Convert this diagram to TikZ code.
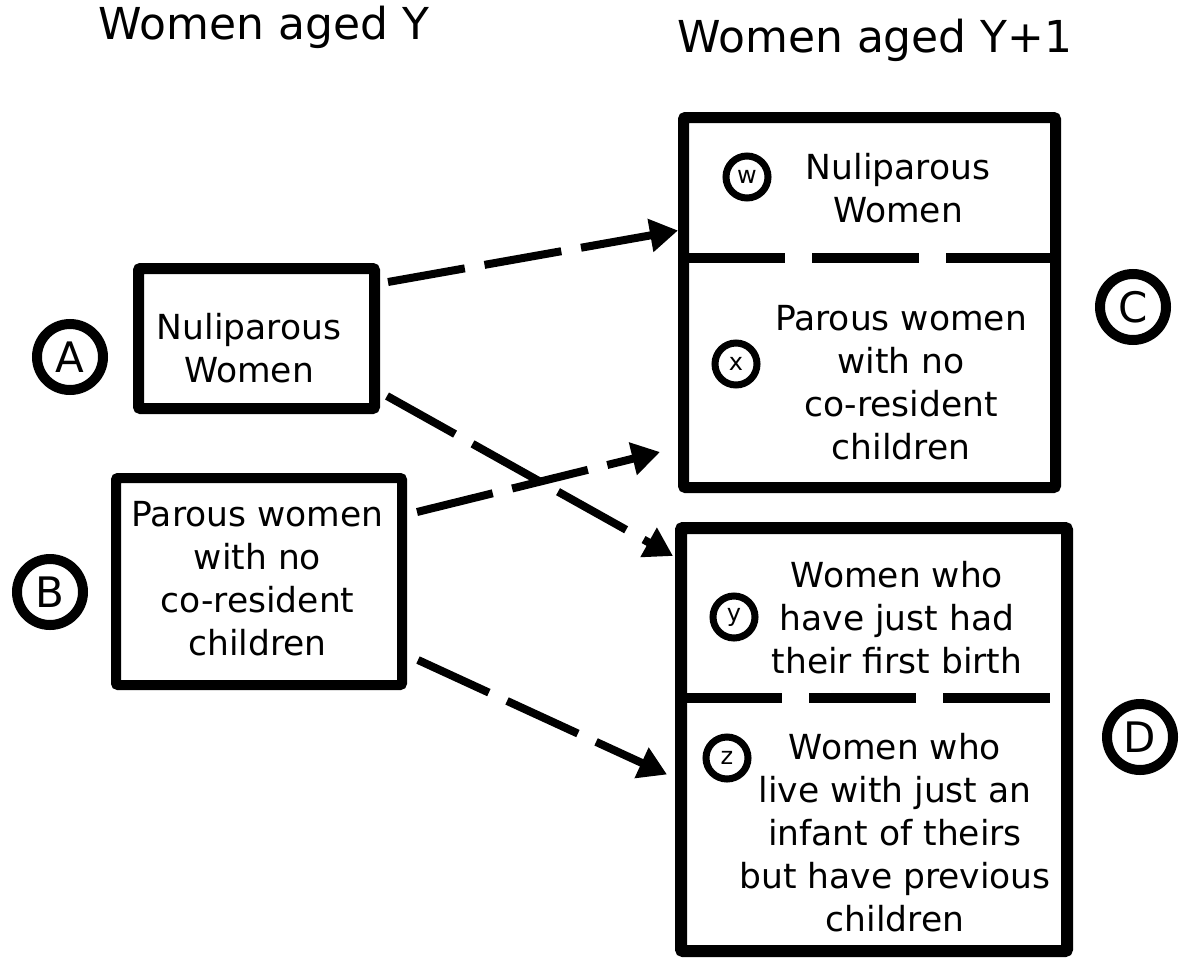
\documentclass[tikz,border=0pt]{standalone}
\usepackage{fontspec}
\setmainfont{DejaVu Sans}
\usepackage{tikz}
\usetikzlibrary{arrows.meta,positioning,calc}
\tikzset{box/.style={draw,line width=11pt,rounded corners=2pt,inner sep=0pt}}
\tikzset{txt/.style={align=center,font=\fontsize{34.5}{43}\selectfont}}
\tikzset{tag/.style={draw,circle,line width=10pt,minimum size=66pt,inner sep=0pt,font=\fontsize{42}{42}\selectfont}}
\tikzset{subtag/.style={draw,circle,line width=7pt,minimum size=42pt,inner sep=0pt,font=\fontsize{24}{24}\selectfont}}
\tikzset{flow/.style={line width=8pt,dash pattern=on 78pt off 20pt,-{Triangle[length=28pt,width=32pt]}}}
\tikzset{split/.style={line width=10pt}}

\begin{document}
\begin{tikzpicture}[x=1pt, y=-1pt]
        \useasboundingbox (0,0) rectangle (1185,961);
        % column titles
        \node[anchor=base,font=\fontsize{44}{44}\selectfont] (ageY) at (264,39) {Women aged Y};
        \node[anchor=base,font=\fontsize{44}{44}\selectfont] (ageY1) at (875,52) {Women aged Y+1};
        % boxes of year Y
        \node[box,minimum width=236pt,minimum height=140pt] (boxA) at (256.5,338.5) {};
        \node[box,line width=10pt,minimum width=286pt,minimum height=207pt] (boxB) at (259,581.5) {};
        \node[txt] (textA) at (249,348) {Nuliparous\\Women};
        \node[txt] (textB) at (257.5,579) {Parous women\\with no\\co-resident\\children};
        % boxes of year Y+1
        \node[box,minimum width=372pt,minimum height=370pt] (boxC) at (869.5,302.5) {};
        \node[box,line width=12pt,minimum width=386pt,minimum height=423pt] (boxD) at (874,739.5) {};
        \draw[split,dash pattern=on 107pt off 27pt] (boxC.west |- 0,258) -- (boxC.east |- 0,258);
        \draw[split,dash pattern=on 107pt off 27pt] (boxD.west |- 0,698) -- (boxD.east |- 0,698);
        \node[txt] (textW) at (898,188) {Nuliparous\\Women};
        \node[txt] (textX) at (901,383) {Parous women\\with no\\co-resident\\children};
        \node[txt] (textY) at (897,618) {Women who\\have just had\\their first birth};
        \node[txt] (textZ) at (895,833) {Women who\\live with just an\\infant of theirs\\but have previous\\children};
        % tags
        \node[tag] (tagA) at (70,357) {A};
        \node[tag] (tagB) at (50,592) {B};
        \node[tag] (tagC) at (1133,307) {C};
        \node[tag] (tagD) at (1140,737) {D};
        \node[subtag] (tagW) at (747,177) {w};
        \node[subtag] (tagX) at (736,364) {x};
        \node[subtag] (tagY) at (734,617) {y};
        \node[subtag] (tagZ) at (727,758) {z};
        % transitions
        \draw[flow] ([xshift=8pt,yshift=-19pt]boxA.north east) -- ([yshift=72pt]boxC.west);
        \draw[flow] ([xshift=7pt,yshift=18pt]boxA.south east) -- ([xshift=-2pt,yshift=-34pt]boxD.north west);
        \draw[flow] ([xshift=10pt,yshift=-39pt]boxB.north east) -- ([xshift=-18pt,yshift=41pt]boxC.south west);
        \draw[flow] ([xshift=11pt,yshift=30pt]boxB.south east) -- ([xshift=-8pt,yshift=-35pt]boxD.west);
\end{tikzpicture}
\end{document}
